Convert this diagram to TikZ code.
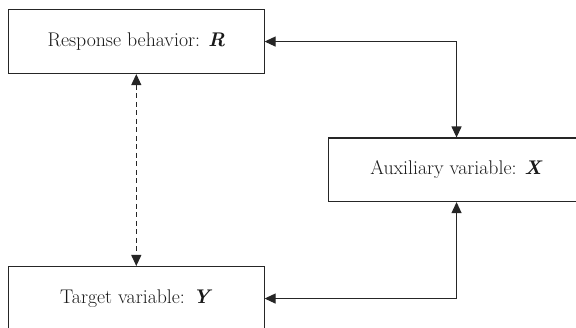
\documentclass[tikz,border=0pt]{standalone}
\usetikzlibrary{arrows.meta}
\begin{document}
\begin{tikzpicture}[x=1pt,y=-1pt,
  box/.style={draw=black!85,line width=1.1pt,inner sep=0pt,anchor=north west,
    text=black!90,font=\fontsize{19.8}{23}\selectfont},
  link/.style={draw=black!85,line width=1.1pt,
    arrows={Triangle[length=11pt,width=10pt]-Triangle[length=11pt,width=10pt]}}]
\useasboundingbox (0,0) rectangle (576,328);
\clip (0,0) rectangle (576,328);
\node[box,minimum width=255.5pt,minimum height=64pt] (R) at (8,9)
  {Response behavior: \textbf{\textit{R}}};
\node[box,minimum width=256pt,minimum height=63.5pt] (X) at (328,137.5)
  {Auxiliary variable: \textbf{\textit{X}}};
\node[box,minimum width=255.5pt,minimum height=64pt] (Y) at (8,266)
  {Target variable: \textbf{\textit{Y}}};
\draw[link] (R.east) -| (X.north);
\draw[link] (Y.east) -| (X.south);
\draw[link,dashed,dash pattern=on 5pt off 3.5pt] (R.south) -- (Y.north);
\end{tikzpicture}
\end{document}
